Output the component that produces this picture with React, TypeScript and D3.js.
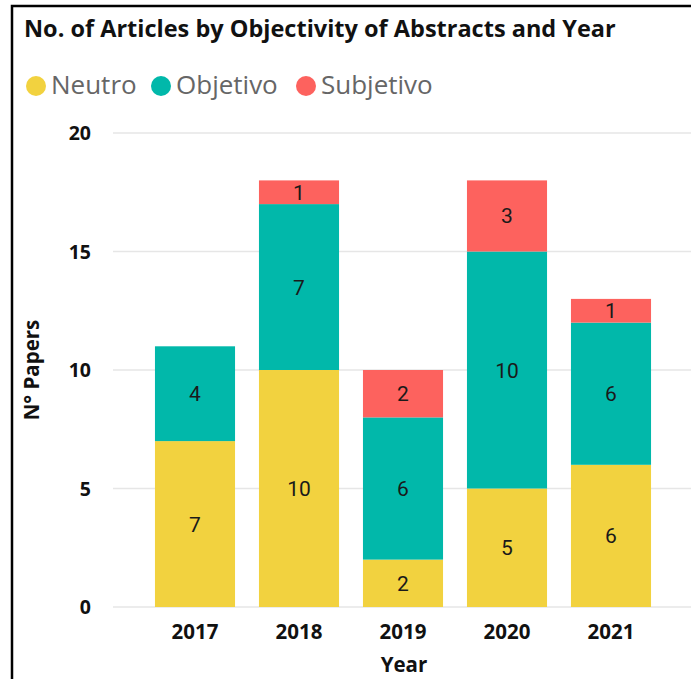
import React from "react";
import * as d3 from "d3";

const years = ["2017", "2018", "2019", "2020", "2021"];
const seriesNames = ["Neutro", "Objetivo", "Subjetivo"];
const neutro = [7, 10, 2, 5, 6];
const objetivo = [4, 7, 6, 10, 6];
const subjetivo = [0, 1, 2, 3, 1];
const yTicks = [0, 5, 10, 15, 20];
const colors = ["#F2D23F", "#01B8AA", "#FD625E"];

const W = 691;
const H = 679;

export default function App() {
  const rows = years.map((y, i) => ({
    year: y,
    Neutro: neutro[i],
    Objetivo: objetivo[i],
    Subjetivo: subjetivo[i],
  }));
  const stacked = d3.stack<any>().keys(seriesNames)(rows);

  const x = d3.scaleBand().domain(years).range([143, 663]).paddingInner(0.23).paddingOuter(0.115);
  const y = d3.scaleLinear().domain([0, 20]).range([607, 133]);

  const font = "'Open Sans', 'DejaVu Sans', sans-serif";
  const labelFont = "Roboto, 'Open Sans', sans-serif";
  const legendItems = [
    { cx: 36, tx: 51 },
    { cx: 161, tx: 176 },
    { cx: 306, tx: 321 },
  ];

  return (
    <svg
      width={W}
      height={H}
      style={{ position: "fixed", left: 0, top: 0, display: "block", background: "#fff" }}
    >
      {/* frame */}
      <rect x={12} y={6} width={W} height={H} fill="#fff" stroke="#000" strokeWidth={2.5} />

      <text x={24} y={37} fontFamily={font} fontWeight={700} fontSize={23.5} fill="#111">
        No. of Articles by Objectivity of Abstracts and Year
      </text>

      {seriesNames.map((s, i) => (
        <g key={s}>
          <circle cx={legendItems[i].cx} cy={86} r={10} fill={colors[i]} />
          <text x={legendItems[i].tx} y={94} fontFamily={font} fontSize={26} fill="#666">
            {s}
          </text>
        </g>
      ))}

      {/* gridlines and y labels */}
      {yTicks.map((t) => (
        <g key={t}>
          <line x1={113} x2={W} y1={y(t)} y2={y(t)} stroke="#e6e6e6" strokeWidth={1.5} />
          <text
            x={91}
            y={y(t) + 7}
            textAnchor="end"
            fontFamily={font}
            fontWeight={700}
            fontSize={19.5}
            fill="#111"
          >
            {t}
          </text>
        </g>
      ))}

      {/* stacked bars */}
      {stacked.map((layer, si) => (
        <g key={layer.key}>
          {layer.map((d: any, i: number) => {
            const v = d[1] - d[0];
            if (v <= 0) return null;
            const x0 = x(years[i]) as number;
            const yt = y(d[1]);
            const yb = y(d[0]);
            return (
              <g key={i}>
                <rect x={x0} y={yt} width={x.bandwidth()} height={yb - yt} fill={colors[si]} />
                <text
                  x={x0 + x.bandwidth() / 2}
                  y={(yt + yb) / 2 + 7.5}
                  textAnchor="middle"
                  fontFamily={labelFont}
                  fontSize={21}
                  fill="#1a1a1a"
                >
                  {v}
                </text>
              </g>
            );
          })}
        </g>
      ))}

      {/* x axis labels */}
      {years.map((yr) => (
        <text
          key={yr}
          x={(x(yr) as number) + x.bandwidth() / 2}
          y={639}
          textAnchor="middle"
          fontFamily={font}
          fontWeight={700}
          fontSize={20.5}
          fill="#111"
        >
          {yr}
        </text>
      ))}
      <text x={404} y={672} textAnchor="middle" fontFamily={font} fontWeight={700} fontSize={20.5} fill="#111">
        Year
      </text>
      <text
        transform={`translate(39, 370) rotate(-90)`}
        textAnchor="middle"
        fontFamily={font}
        fontWeight={700}
        fontSize={20.5}
        fill="#111"
      >
        N° Papers
      </text>
    </svg>
  );
}
